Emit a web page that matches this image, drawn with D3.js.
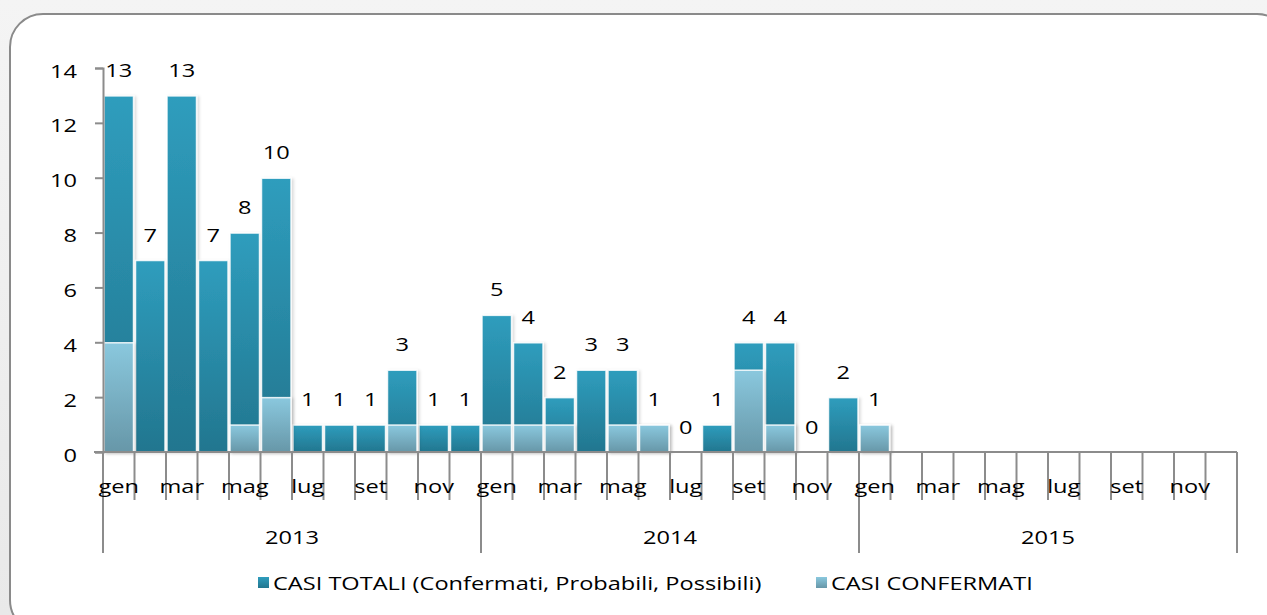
<!DOCTYPE html>
<html><head><meta charset="utf-8">
<script src="https://cdn.jsdelivr.net/npm/d3@7"></script>
<style>
html,body{margin:0;padding:0;background:#f2f2f2;}
svg{display:block;font-family:"Open Sans",sans-serif;}
</style></head>
<body><svg id="c" width="1267" height="615"></svg>
<script>
const years = ["2013","2014","2015"];
const monthNames = ["gen","feb","mar","apr","mag","giu","lug","ago","set","ott","nov","dic"];
const shownMonths = ["gen","mar","mag","lug","set","nov"];
const totals = [13,7,13,7,8,10,1,1,1,3,1,1, 5,4,2,3,3,1,0,1,4,4,0,2, 1,null,null,null,null,null,null,null,null,null,null,null];
const confirmed = [4,0,0,0,1,2,0,0,0,1,0,0, 1,1,1,0,1,1,0,0,3,1,0,0, 1,null,null,null,null,null,null,null,null,null,null,null];
const yTicks = [0,2,4,6,8,10,12,14];
const seriesNames = ["CASI TOTALI (Confermati, Probabili, Possibili)","CASI CONFERMATI"];

const FS = 18, FF = "'Open Sans',sans-serif", SX = 1.31;
// horizontally stretch text (reference glyphs are wide)
function stretch(sel){
  sel.each(function(){
    const t = d3.select(this);
    const x0 = +t.attr("x") || 0, y0 = +t.attr("y") || 0;
    const tr = t.attr("transform") || "";
    t.attr("x",0).attr("y",0).attr("transform", `${tr} translate(${x0},${y0}) scale(${SX},1)`);
  });
}
const svg = d3.select("#c");
const defs = svg.append("defs");
const bg = defs.append("linearGradient").attr("id","bgG").attr("x1",0).attr("y1",0).attr("x2",0).attr("y2",1);
bg.append("stop").attr("offset",0).attr("stop-color","#f4f4f4");
bg.append("stop").attr("offset",1).attr("stop-color","#e9e9e9");
const g1 = defs.append("linearGradient").attr("id","gTot").attr("x1",0).attr("y1",0).attr("x2",0).attr("y2",1);
g1.append("stop").attr("offset",0).attr("stop-color","#2f9dbd");
g1.append("stop").attr("offset",1).attr("stop-color","#22768f");
const g2 = defs.append("linearGradient").attr("id","gConf").attr("x1",0).attr("y1",0).attr("x2",0).attr("y2",1);
g2.append("stop").attr("offset",0).attr("stop-color","#8ac8de");
g2.append("stop").attr("offset",1).attr("stop-color","#6797a8");
const sh = defs.append("filter").attr("id","sh").attr("x","-20%").attr("y","-20%").attr("width","140%").attr("height","140%");
sh.append("feDropShadow").attr("dx",2).attr("dy",1).attr("stdDeviation",1.5).attr("flood-color","#000").attr("flood-opacity",0.15);

svg.append("rect").attr("width",1267).attr("height",615).attr("fill","url(#bgG)");
svg.append("rect").attr("x",10).attr("y",14).attr("width",1280).attr("height",619).attr("rx",33).attr("ry",33)
  .attr("fill","#fff").attr("stroke","#8a8a8a").attr("stroke-width",2);

const plotLeft = 103, plotRight = 1237, plotTop = 68, plotBase = 452;
const n = years.length*12;
const x = d3.scaleBand().domain(d3.range(n)).range([plotLeft,plotRight]).padding(0);
const y = d3.scaleLinear().domain([0,14]).range([plotBase,plotTop]);

// bars
const barsG = svg.append("g");
function drawSeries(vals, fill){
  barsG.selectAll(null).data(vals.map((v,i)=>({v,i})).filter(d=>d.v!==null && d.v>0)).enter()
   .append("rect")
   .attr("x",d=>x(d.i)+1).attr("width",x.bandwidth()-2)
   .attr("y",d=>y(d.v)+0.5).attr("height",d=>plotBase-y(d.v)-0.5)
   .attr("fill",fill).attr("stroke","#ffffff").attr("stroke-opacity",0.85).attr("stroke-width",1.5)
   .attr("filter","url(#sh)");
}
drawSeries(totals,"url(#gTot)");
drawSeries(confirmed,"url(#gConf)");

// data labels
svg.append("g").selectAll("text").data(totals.map((v,i)=>({v,i})).filter(d=>d.v!==null)).enter()
  .append("text").attr("x",d=>x(d.i)+x.bandwidth()/2).attr("y",d=>y(d.v)-18.5)
  .attr("text-anchor","middle").attr("font-size",FS).attr("font-family",FF).attr("fill","#000").text(d=>d.v)
  .call(stretch);

// y axis
const yAx = svg.append("g").attr("transform",`translate(${plotLeft},0)`)
  .call(d3.axisLeft(y).tickValues(yTicks).tickSize(8).tickPadding(18));
yAx.select(".domain").attr("stroke","#8c8c8c").attr("stroke-width",2);
yAx.selectAll(".tick line").attr("stroke","#8c8c8c").attr("stroke-width",2);
yAx.selectAll("text").attr("font-size",FS).attr("font-family",FF).attr("fill","#000").attr("dy","0.5em").call(stretch);

// x axis line
svg.append("line").attr("x1",plotLeft-9).attr("x2",plotRight).attr("y1",plotBase).attr("y2",plotBase).attr("stroke","#8c8c8c").attr("stroke-width",2);
// month ticks
const bounds = d3.range(n+1).map(i=> i<n ? x(i) : plotRight);
svg.append("g").selectAll("line").data(bounds).enter().append("line")
  .attr("x1",d=>d).attr("x2",d=>d).attr("y1",plotBase).attr("y2",(d,i)=> i%12===0 ? 553 : 500)
  .attr("stroke","#8c8c8c").attr("stroke-width",2);
// month labels
const mLabels = d3.range(n).map(i=>({i,m:monthNames[i%12]})).filter(d=>shownMonths.includes(d.m));
svg.append("g").selectAll("text").data(mLabels).enter().append("text")
  .attr("x",d=>x(d.i)+x.bandwidth()/2).attr("y",493).attr("text-anchor","middle")
  .attr("font-size",FS).attr("font-family",FF).attr("fill","#000").text(d=>d.m).call(stretch);
// year labels
svg.append("g").selectAll("text").data(years).enter().append("text")
  .attr("x",(d,k)=>(x(k*12)+ (k===2?plotRight:x(k*12+12)))/2).attr("y",544).attr("text-anchor","middle")
  .attr("font-size",FS).attr("font-family",FF).attr("fill","#000").text(d=>d).call(stretch);

// legend
const leg = [{name:seriesNames[0],fill:"url(#gTot)",x:258},{name:seriesNames[1],fill:"url(#gConf)",x:816}];
const lg = svg.append("g").selectAll("g").data(leg).enter().append("g");
lg.append("rect").attr("x",d=>d.x).attr("y",577).attr("width",11).attr("height",11).attr("fill",d=>d.fill);
lg.append("text").attr("x",d=>d.x+15).attr("y",590).attr("font-size",FS).attr("font-family",FF).attr("fill","#000").text(d=>d.name).call(stretch);
</script></body></html>
